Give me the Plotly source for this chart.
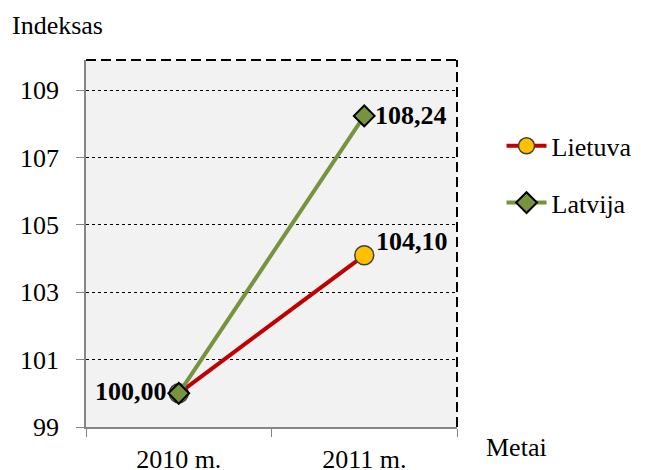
import plotly.graph_objects as go

years = ["2010 m.", "2011 m."]
lietuva = [100.00, 104.10]
latvija = [100.00, 108.24]
y_ticks = [99, 101, 103, 105, 107, 109]

def fmt(v):
    return f"{v:.2f}".replace(".", ",")

SERIF = "Liberation Serif, Times New Roman, serif"
FS = 26
fig = go.Figure()

fig.add_trace(go.Scatter(
    x=years, y=lietuva, name="Lietuva", mode="lines+markers",
    line=dict(color="#c00000", width=4),
    marker=dict(symbol="circle", size=19, color="#ffc000", line=dict(color="#404040", width=1.5)),
    legendgroup="a",
))
fig.add_trace(go.Scatter(
    x=years, y=latvija, name="Latvija", mode="lines+markers",
    line=dict(color="#77933c", width=4),
    marker=dict(symbol="diamond", size=16, color="#77933c", line=dict(color="black", width=2)),
    legendgroup="b",
))

lab_font = dict(family=SERIF, size=FS, color="black", weight="bold")
annots = [
    dict(x=years[0], y=latvija[0], text=fmt(latvija[0]), xanchor="right", yanchor="middle",
         xshift=-10, yshift=2, showarrow=False, font=lab_font),
    dict(x=years[1], y=latvija[1], text=fmt(latvija[1]), xanchor="left", yanchor="middle",
         xshift=9, yshift=0, showarrow=False, font=lab_font),
    dict(x=years[1], y=lietuva[1], text=fmt(lietuva[1]), xanchor="left", yanchor="middle",
         xshift=10, yshift=14, showarrow=False, font=lab_font),
    dict(text="Indeksas", xref="paper", yref="paper", x=-0.205, y=1.095,
         xanchor="left", yanchor="middle", showarrow=False, font=dict(size=FS)),
    dict(text="Metai", xref="paper", yref="paper", x=1.073, y=-0.057,
         xanchor="left", yanchor="middle", showarrow=False, font=dict(size=FS)),
]

fig.update_layout(
    width=654, height=470,
    margin=dict(l=86, r=197, t=60, b=43),
    paper_bgcolor="white", plot_bgcolor="#f2f2f2",
    font=dict(family=SERIF, size=FS, color="black"),
    showlegend=True,
    legend=dict(x=1.12, y=0.83, xanchor="left", yanchor="top",
                font=dict(family=SERIF, size=FS), tracegroupgap=20,
                traceorder="grouped", itemwidth=40, bgcolor="rgba(0,0,0,0)"),
    xaxis=dict(type="category", range=[-0.5, 1.5], showline=True, linecolor="#868686",
               linewidth=1.5, ticks="outside", tickson="boundaries", ticklen=8,
               tickcolor="#868686", showgrid=False, tickfont=dict(size=FS), zeroline=False,
               ticklabelstandoff=8, automargin=False),
    yaxis=dict(range=[99, 109.9], tickvals=y_ticks, showline=True, linecolor="#868686",
               linewidth=1.5, ticks="outside", ticklen=8, tickcolor="#868686",
               showgrid=True, gridcolor="black", griddash="dot", gridwidth=1,
               tickfont=dict(size=FS), zeroline=False, ticklabelstandoff=12, automargin=False),
    shapes=[
        dict(type="line", xref="paper", yref="paper", x0=0, x1=1, y0=1, y1=1,
             line=dict(color="black", width=2, dash="10px,5px")),
        dict(type="line", xref="paper", yref="paper", x0=1, x1=1, y0=0, y1=1,
             line=dict(color="black", width=2, dash="10px,5px")),
    ],
    annotations=annots,
)

fig.write_html("out.html")
